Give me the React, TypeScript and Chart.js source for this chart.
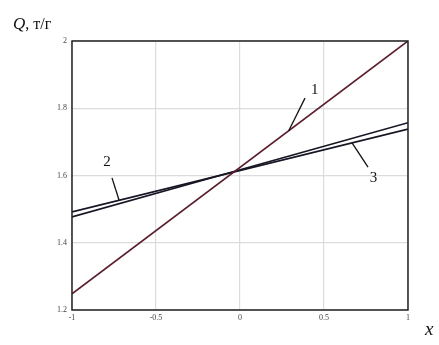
import React, { useEffect, useRef } from "react";
import { Chart, registerables } from "chart.js";
Chart.register(...registerables);

const xValues = [-1, 1];
const series1 = [1.248, 2.0];
const series2 = [1.492, 1.738];
const series3 = [1.477, 1.757];
const xTickLabels = ["-1", "-0.5", "0", "0.5", "1"];
const yTickLabels = ["1.2", "1.4", "1.6", "1.8", "2"];
const curveNames = ["1", "2", "3"];
// leader line: point on the curve -> point near the label; then label text position (data coords)
const leaderStart = [[0.29, 1.733], [-0.72, 1.527], [0.667, 1.697]];
const leaderEnd = [[0.387, 1.83], [-0.762, 1.593], [0.762, 1.625]];
const labelPos = [[0.445, 1.853], [-0.792, 1.64], [0.795, 1.592]];

const overlay = {
  id: "overlay",
  afterDatasetsDraw(chart: any) {
    const { ctx, chartArea: a, scales } = chart;
    const xs = scales.x, ys = scales.y;
    ctx.save();
    // frame
    ctx.strokeStyle = "#222";
    ctx.lineWidth = 1.5;
    ctx.strokeRect(a.left, a.top, a.right - a.left, a.bottom - a.top);
    // leaders and labels
    ctx.strokeStyle = "#111";
    ctx.lineWidth = 1.3;
    ctx.fillStyle = "#111";
    ctx.font = '15px "Liberation Serif", serif';
    ctx.textAlign = "center";
    ctx.textBaseline = "middle";
    for (let i = 0; i < curveNames.length; i++) {
      ctx.beginPath();
      ctx.moveTo(xs.getPixelForValue(leaderStart[i][0]), ys.getPixelForValue(leaderStart[i][1]));
      ctx.lineTo(xs.getPixelForValue(leaderEnd[i][0]), ys.getPixelForValue(leaderEnd[i][1]));
      ctx.stroke();
      ctx.fillText(curveNames[i], xs.getPixelForValue(labelPos[i][0]), ys.getPixelForValue(labelPos[i][1]));
    }
    // axis titles
    ctx.textAlign = "left";
    ctx.textBaseline = "alphabetic";
    ctx.font = 'italic 17px "Liberation Serif", serif';
    ctx.fillText("Q", 13, 29);
    const qw = ctx.measureText("Q").width;
    ctx.font = '16px "Liberation Serif", serif';
    ctx.fillText(", т/г", 13 + qw, 29);
    ctx.font = 'italic 19px "Liberation Serif", serif';
    ctx.fillText("x", 425, 335);
    ctx.restore();
  },
};

export default function App() {
  const ref = useRef<HTMLCanvasElement>(null);
  useEffect(() => {
    document.body.style.margin = "0";
    const chart = new Chart(ref.current!, {
      type: "line",
      data: {
        datasets: [
          {
            label: curveNames[0],
            data: xValues.map((x, i) => ({ x, y: series1[i] })),
            borderColor: "#5a1e2a",
            borderWidth: 1.7,
            pointRadius: 0,
          },
          {
            label: curveNames[1],
            data: xValues.map((x, i) => ({ x, y: series2[i] })),
            borderColor: "#161624",
            borderWidth: 1.7,
            pointRadius: 0,
          },
          {
            label: curveNames[2],
            data: xValues.map((x, i) => ({ x, y: series3[i] })),
            borderColor: "#161624",
            borderWidth: 1.7,
            pointRadius: 0,
          },
        ],
      },
      options: {
        animation: false,
        responsive: false,
        layout: { padding: { left: 0, right: 31, top: 41, bottom: 0 } },
        plugins: { legend: { display: false }, tooltip: { enabled: false } },
        scales: {
          x: {
            type: "linear",
            min: -1,
            max: 1,
            afterFit: (s: any) => { s.height = 35; },
            afterBuildTicks: (s: any) => { s.ticks = xTickLabels.map((t) => ({ value: parseFloat(t) })); },
            ticks: {
              callback: (v: any) => xTickLabels.find((t) => parseFloat(t) === v) ?? "",
              font: { family: '"Liberation Serif", serif', size: 8 },
              color: "#444",
              padding: 3,
              maxRotation: 0,
            },
            grid: { color: "#dcdcdc", lineWidth: 1.2, drawTicks: false },
            border: { display: false },
          },
          y: {
            type: "linear",
            min: 1.2,
            max: 2,
            afterFit: (s: any) => { s.width = 72; },
            afterBuildTicks: (s: any) => { s.ticks = yTickLabels.map((t) => ({ value: parseFloat(t) })); },
            ticks: {
              callback: (v: any) => yTickLabels.find((t) => parseFloat(t) === v) ?? "",
              font: { family: '"Liberation Serif", serif', size: 8 },
              color: "#444",
              padding: 5,
            },
            grid: { color: "#dcdcdc", lineWidth: 1.2, drawTicks: false },
            border: { display: false },
          },
        },
      },
      plugins: [overlay],
    });
    return () => chart.destroy();
  }, []);
  return <canvas ref={ref} width={439} height={345} style={{ display: "block" }} />;
}
